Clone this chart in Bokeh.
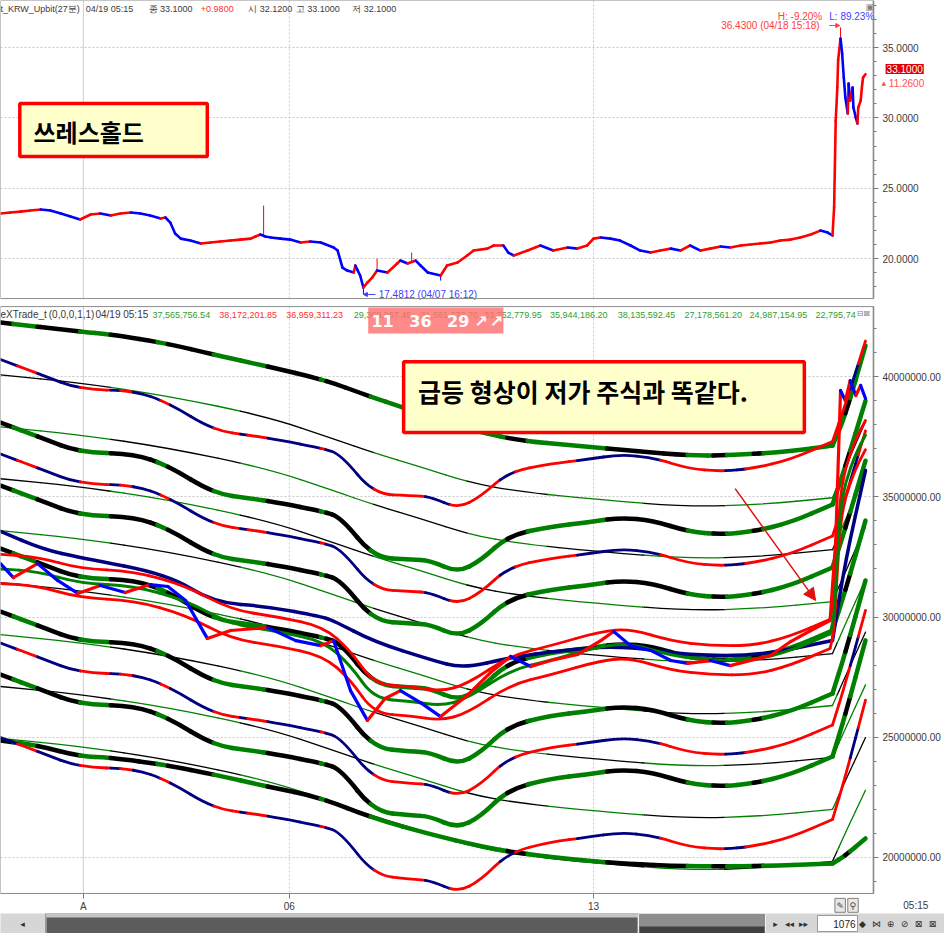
import numpy as np
from bokeh.plotting import figure
from bokeh.layouts import column
from bokeh.models import (Range1d, FixedTicker, CustomJSTickFormatter, Span,
                          BoxAnnotation, Label, Arrow, NormalHead, ColumnDataSource)
from bokeh.core.properties import value
from bokeh.embed import file_html
from bokeh.resources import INLINE

LATIN = "Liberation Sans"
HANGUL = "Noto Sans CJK KR"

# ---------------- price panel: 27-minute bars (bar index, close) ----------------
PRICE_PTS = [
    (0, 23.20), (12, 23.27), (25, 23.34), (37, 23.42), (50, 23.49), (62, 23.42), (75, 23.20),
    (87, 22.99), (99, 22.78), (112, 23.13), (124, 23.20), (137, 23.06), (149, 23.20), (162, 23.27),
    (174, 23.20), (186, 23.06), (199, 22.85), (205, 22.92), (211, 22.56), (217, 21.78), (224, 21.42),
    (236, 21.28), (249, 21.07), (261, 21.14), (273, 21.21), (286, 21.28), (298, 21.35), (311, 21.42),
    (317, 21.57), (323, 21.71), (329, 21.57), (336, 21.50), (348, 21.42), (360, 21.35), (373, 21.14),
    (385, 21.21), (398, 21.14), (414, 20.79), (419, 20.57), (425, 19.36), (431, 19.15), (439, 19.01),
    (441, 19.51), (444, 19.15), (447, 18.80), (451, 17.94), (456, 18.30), (462, 18.65), (468, 19.15),
    (481, 19.01), (493, 19.65), (497, 19.86), (506, 19.65), (516, 19.86), (522, 19.51), (531, 19.01),
    (547, 18.80), (555, 19.51), (568, 19.72), (580, 20.22), (588, 20.57), (605, 20.71), (613, 20.93),
    (625, 20.93), (631, 20.43), (638, 20.22), (655, 20.57), (671, 20.93), (687, 20.57), (705, 20.79),
    (717, 20.71), (729, 20.93), (737, 21.42), (746, 21.50), (758, 21.42), (770, 21.28), (783, 20.93),
    (795, 20.57), (808, 20.43), (820, 20.57), (833, 20.71), (845, 20.57), (857, 20.93), (870, 20.57),
    (882, 20.71), (895, 20.86), (907, 20.79), (920, 20.93), (932, 21.00), (944, 21.07), (957, 21.14),
    (969, 21.28), (982, 21.35), (994, 21.50), (1007, 21.71), (1019, 21.99), (1028, 21.85), (1034, 21.64),
    (1036, 23.63), (1038, 29.81), (1040, 32.16), (1041, 34.08), (1044, 35.64), (1046, 34.57),
    (1048, 32.87), (1050, 31.45), (1053, 30.31), (1054, 32.44), (1056, 31.23), (1059, 32.16),
    (1060, 30.74), (1063, 30.02), (1065, 29.60), (1066, 30.74), (1069, 31.23), (1071, 32.44),
    (1072, 32.87), (1075, 33.10),
]
# wick extremes (bar index, high or low)
PRICE_WICKS = [(327, 23.77), (451, 17.48), (468, 20.00), (511, 20.43), (547, 18.44), (1044, 36.43)]
PERIOD_HIGH = 36.43
PERIOD_LOW = 17.4812

# ---------------- indicator panel (values in millions) ----------------
# main band family: (bar, centre, sigma)
BAND_PTS = [
    (0, 32.85, 2.62), (50, 32.22, 2.62), (99, 31.60, 2.62), (165, 31.56, 2.62), (208, 31.06, 2.62),
    (265, 29.90, 2.62), (311, 29.69, 2.62), (344, 29.52, 2.62), (401, 29.15, 2.62), (423, 28.90, 2.62),
    (464, 27.19, 2.64), (510, 27.07, 2.66), (534, 27.03, 2.66), (568, 26.53, 2.66), (597, 27.03, 2.66),
    (631, 28.11, 2.64), (684, 28.52, 2.62), (729, 28.69, 2.62), (770, 28.90, 2.62), (811, 28.77, 2.62),
    (854, 28.32, 2.62), (895, 28.19, 2.62), (936, 28.32, 2.62), (982, 28.69, 2.62), (1034, 29.44, 2.62),
    (1050, 31.10, 2.58), (1075, 34.01, 2.49),
]
THICK_K = [2, 1, 0, -1, -2]
REDBLUE_K = [3, 1.5, -1.5, -3]

# slow band family: (bar, centre, step)
SLOW_PTS = [
    (0, 31.43, 2.16), (99, 31.10, 2.16), (208, 30.56, 2.16), (332, 29.69, 2.16), (414, 28.77, 2.16),
    (464, 28.19, 2.16), (522, 27.61, 2.16), (584, 26.94, 2.16), (646, 26.57, 2.16), (742, 26.24, 2.16),
    (854, 25.95, 2.16), (944, 26.03, 2.16), (1034, 26.32, 2.16), (1050, 27.53, 2.17),
    (1075, 29.369967, 2.191406),
]
SLOW_K = [4, 3, 2, 1, 0, -1, -2, -3]

OUTER_UPPER = [
    (0, 42.25), (99, 41.87), (137, 41.75), (208, 41.37), (265, 40.91), (332, 40.42), (401, 39.88),
    (456, 39.21), (501, 38.71), (547, 38.17), (597, 37.67), (646, 37.34), (712, 37.13), (795, 36.88),
    (854, 36.72), (903, 36.72), (982, 36.88), (1034, 37.13), (1050, 38.38), (1075, 41.29),
]
OUTER_LOWER = [
    (0, 24.86), (46, 24.66), (99, 24.20), (137, 24.16), (208, 23.83), (265, 23.45), (332, 22.95),
    (398, 22.49), (464, 21.62), (534, 20.96), (597, 20.46), (646, 20.17), (712, 19.92), (770, 19.75),
    (854, 19.63), (936, 19.63), (1034, 19.75), (1050, 20.08), (1075, 20.79),
]
NAVY_LINE = [
    (0, 33.56), (53, 32.81), (99, 32.47), (208, 31.77), (265, 30.60), (332, 30.44), (398, 30.02),
    (414, 29.85), (464, 28.98), (534, 28.23), (575, 27.86), (634, 28.32), (696, 28.61), (770, 28.81),
    (857, 28.40), (944, 28.40), (1034, 29.02), (1050, 32.35), (1075, 36.09),
]
# short envelope: centre line and its fixed half-width
ENV_CENTRE = [
    (0, 32.0), (46, 31.9), (99, 31.4), (165, 31.3), (230, 30.7), (286, 29.7), (344, 29.4), (401, 29.0),
    (435, 28.0), (464, 26.6), (510, 26.5), (547, 26.3), (580, 26.6), (634, 27.8), (684, 28.2),
    (746, 28.8), (783, 28.9), (833, 28.4), (882, 28.2), (936, 28.2), (982, 28.6), (1031, 29.3),
    (1036, 30.0), (1040, 32.5), (1044, 34.5), (1050, 35.6), (1063, 36.8), (1075, 37.565757),
]
ENV_HALF = 0.606445
FAST_LINE = [
    (0, 32.22), (16, 31.64), (46, 32.22), (71, 31.52), (96, 30.98), (124, 31.31), (155, 31.02),
    (186, 31.35), (208, 31.27), (230, 30.69), (257, 29.11), (286, 29.44), (332, 29.56), (367, 29.02),
    (398, 28.81), (414, 29.02), (435, 26.94), (456, 25.70), (478, 26.61), (497, 26.94), (522, 26.44),
    (547, 25.86), (580, 26.74), (609, 27.69), (634, 28.36), (659, 27.94), (684, 28.19), (717, 28.44),
    (746, 29.02), (762, 29.40), (783, 28.81), (808, 28.61), (833, 28.19), (854, 28.07), (882, 28.19),
    (907, 27.98), (936, 28.23), (957, 28.40), (982, 28.98), (1007, 29.44), (1031, 29.85), (1038, 33.18),
    (1044, 39.42), (1050, 39.00), (1056, 39.83), (1063, 39.21), (1069, 39.63), (1075, 39.09),
]
# bars where the smooth lines turn sharply (the breakout)
KNEE_BARS = (1031, 1034)

# state colouring along time: bar where each state starts
THICK_STATE_BARS = [0, 16, 46, 99, 137, 195, 208, 265, 332, 398, 405, 460, 630, 655, 754, 854, 886,
                    903, 936, 948, 1050, 1056]
REDBLUE_STATE_BARS = [0, 21, 46, 99, 137, 149, 165, 199, 211, 265, 298, 307, 332, 398, 404, 464, 528,
                      559, 621, 640, 717, 820, 901, 926, 1056, 1066]
SLOW_STATE_BARS = [0, 137, 298, 464, 580, 680, 800, 900, 1040]

X_TICKS = {103: "A", 359: "06", 737: "13"}
LEGEND_NUMBERS = ["37,565,756.54", "38,172,201.85", "36,959,311.23", "29,369,967.45",
                  "31,561,373.70", "33,752,779.95", "35,944,186.20", "38,135,592.45",
                  "27,178,561.20", "24,987,154.95", "22,795,74"]
LEGEND_NUMBER_BARS = [189, 272, 355, 439, 522, 601, 683, 767, 850, 931, 1013]

BLACK, GREEN, RED, NAVY, BLUE = "#000000", "#008000", "#ff0000", "#000080", "#0000ff"


def pts(seq):
    a = np.asarray(seq, dtype=float)
    return a[:, 0], a[:, 1:]


def bezier_chain(xs, ys, corners=KNEE_BARS):
    """Quadratic pieces through the knot midpoints (knots act as control points)."""
    P = np.column_stack([xs, ys]).astype(float)
    n = len(P)
    cut = [0] + [i for i in range(1, n - 1) if xs[i] in corners] + [n - 1]
    curves = []
    for a, b in zip(cut[:-1], cut[1:]):
        run = P[a:b + 1]
        if len(run) == 2:
            curves.append((run[0], (run[0] + run[1]) / 2, run[1]))
            continue
        mids = (run[:-1] + run[1:]) / 2
        curves.append((run[0], (run[0] + mids[0]) / 2, mids[0]))
        for i in range(1, len(run) - 1):
            curves.append((mids[i - 1], run[i], mids[i]))
        curves.append((mids[-1], (mids[-1] + run[-1]) / 2, run[-1]))
    return curves


def solve_t(x0, cx, x1, xb):
    A = x0 - 2 * cx + x1
    B = 2 * (cx - x0)
    C = x0 - xb
    if abs(A) < 1e-9:
        return -C / B
    d = np.sqrt(max(B * B - 4 * A * C, 0.0))
    for t in ((-B + d) / (2 * A), (-B - d) / (2 * A)):
        if -1e-9 <= t <= 1 + 1e-9:
            return min(max(t, 0.0), 1.0)
    return 0.5


def split_quad(p0, c, p1, t):
    a = p0 + (c - p0) * t
    b = c + (p1 - c) * t
    m = a + (b - a) * t
    return (p0, a, m), (m, b, p1)


def coloured_curves(xs, ys, state_bars, palette, width, rows):
    for p0, c, p1 in bezier_chain(xs, ys):
        parts = []
        rest = (p0, c, p1)
        for b in state_bars:
            if rest[0][0] < b < rest[2][0]:
                t = solve_t(rest[0][0], rest[1][0], rest[2][0], b)
                left, rest = split_quad(*rest, t)
                parts.append(left)
        parts.append(rest)
        for q0, qc, q1 in parts:
            idx = int(np.searchsorted(state_bars, (q0[0] + q1[0]) / 2, side="right")) - 1
            rows["x0"].append(q0[0]); rows["y0"].append(q0[1])
            rows["cx"].append(qc[0]); rows["cy"].append(qc[1])
            rows["x1"].append(q1[0]); rows["y1"].append(q1[1])
            rows["color"].append(palette[idx % len(palette)])
            rows["width"].append(width)


def new_rows():
    return {k: [] for k in ("x0", "y0", "cx", "cy", "x1", "y1", "color", "width")}


# horizontal scale: the frames span the whole window, the value axes sit at AXIS_X
AXIS_X = 1084.9
X_FULL = 1173.2

# ======================= price panel =======================
PRICE_BOTTOM = 17.16     # lower edge of the price pane
top = figure(width=944, height=302, x_range=Range1d(0, X_FULL), y_range=Range1d(16.88, 38.34),
             output_backend="svg", toolbar_location=None, x_axis_location=None,
             y_axis_location="right", min_border=0)

bx, bv = pts(PRICE_PTS)
bv = bv[:, 0]
seg = dict(x0=bx[:-1], y0=bv[:-1], x1=bx[1:], y1=bv[1:],
           c=[RED if b >= a else BLUE for a, b in zip(bv[:-1], bv[1:])])
wx, wv = pts(PRICE_WICKS)
wbase = np.interp(wx, bx, bv)
top.segment(x0=wx, y0=wbase, x1=wx, y1=wv[:, 0],
            line_color=[RED if v > b else BLUE for v, b in zip(wv[:, 0], wbase)], line_width=1)
top.segment(x0="x0", y0="y0", x1="x1", y1="y1", line_color="c", line_width=2.6,
            line_cap="round", source=ColumnDataSource(seg))

# ======================= indicator panel =======================
IND_BOTTOM, IND_TOP = 18.503, 42.91   # edges of the indicator pane
bot = figure(width=944, height=611, x_range=top.x_range, y_range=Range1d(17.67, 43.08),
             output_backend="svg", toolbar_location=None, y_axis_location="right", min_border=0)

layers = [new_rows() for _ in range(6)]
thin, outer, thick, redblue, navy, env = layers

sx, sv = pts(SLOW_PTS)
for i, k in enumerate(SLOW_K):
    pal = [BLACK, GREEN] if i % 2 == 0 else [GREEN, BLACK]
    coloured_curves(sx, sv[:, 0] + k * sv[:, 1], SLOW_STATE_BARS, pal, 1.3, thin)

for line in (OUTER_UPPER, OUTER_LOWER):
    ox, ov = pts(line)
    coloured_curves(ox, ov[:, 0], THICK_STATE_BARS, [BLACK, GREEN], 4.5, outer)

cx_, cv = pts(BAND_PTS)
for k in THICK_K:
    coloured_curves(cx_, cv[:, 0] + k * cv[:, 1], THICK_STATE_BARS, [BLACK, GREEN], 4.5, thick)
for k in REDBLUE_K:
    coloured_curves(cx_, cv[:, 0] + k * cv[:, 1], REDBLUE_STATE_BARS, [NAVY, RED], 2.8, redblue)

nx, nv = pts(NAVY_LINE)
coloured_curves(nx, nv[:, 0], [0], [NAVY], 3.5, navy)

ex, ev = pts(ENV_CENTRE)
coloured_curves(ex, ev[:, 0] + ENV_HALF, [0], [RED], 2.8, env)
coloured_curves(ex, ev[:, 0] - ENV_HALF, [0], [RED], 2.8, env)
coloured_curves(ex, ev[:, 0], [0], [GREEN], 3.0, env)

for rows in layers:
    bot.quadratic(x0="x0", y0="y0", x1="x1", y1="y1", cx="cx", cy="cy", line_color="color",
                  line_width="width", line_cap="round", source=ColumnDataSource(rows))

fx, fv = pts(FAST_LINE)
fv = fv[:, 0]
bot.segment(x0=fx[:-1], y0=fv[:-1], x1=fx[1:], y1=fv[1:],
            line_color=[RED if b >= a else BLUE for a, b in zip(fv[:-1], fv[1:])],
            line_width=3.2, line_cap="round")

# ======================= axes, grids, frames =======================
PANES = ((top, [20, 25, 30, 35], list(range(18, 39)), "return tick.toFixed(4);", PRICE_BOTTOM, 38.34),
         (bot, [20, 25, 30, 35, 40], list(range(19, 43)), "return (tick*1e6).toFixed(2);",
          IND_BOTTOM, IND_TOP))
for fig, ticks, minor, fmt, lo, hi in PANES:
    ax = fig.yaxis[0]
    ax.fixed_location = AXIS_X
    ax.bounds = (lo, hi)
    ax.ticker = FixedTicker(ticks=ticks, minor_ticks=minor)
    ax.formatter = CustomJSTickFormatter(code=fmt)
    ax.major_label_text_font = LATIN
    ax.major_label_text_font_size = "10px"
    ax.major_label_text_color = "#3a3a3a"
    ax.axis_line_color = "#7a7a7a"
    ax.axis_line_width = 1.5
    ax.major_tick_line_color = "#7a7a7a"
    ax.minor_tick_line_color = "#7a7a7a"
    ax.major_tick_out = 5
    ax.major_tick_in = 0
    ax.minor_tick_out = 3
    ax.minor_tick_in = 0
    ax.major_label_standoff = 4
    fig.ygrid.grid_line_color = "#c8c8c8"
    fig.ygrid.grid_line_dash = "2 2"
    fig.xgrid.visible = False
    fig.outline_line_color = None
    fig.background_fill_color = "white"
    fig.border_fill_color = "white"
    fig.add_layout(Span(location=103, dimension="height", line_color="#cfcfcf", line_width=1,
                        level="underlay"))
    for loc in (359, 737):
        fig.add_layout(Span(location=loc, dimension="height", line_color="#c8c8c8",
                            line_dash="2 2", line_width=1, level="underlay"))
    # blank the margins outside the pane
    fig.add_layout(BoxAnnotation(left=AXIS_X, fill_color="white", fill_alpha=1, line_alpha=0,
                                 level="underlay"))
    fig.add_layout(BoxAnnotation(top=lo, fill_color="white", fill_alpha=1, line_alpha=0,
                                 level="underlay"))
    fig.add_layout(BoxAnnotation(bottom=hi, fill_color="white", fill_alpha=1, line_alpha=0,
                                 level="underlay"))
    fig.add_layout(BoxAnnotation(left=0, right=AXIS_X, bottom=lo, top=hi, fill_alpha=0,
                                 line_color="#8c8c8c", line_alpha=1, line_width=1))

xa = bot.xaxis[0]
xa.fixed_location = IND_BOTTOM
xa.bounds = (0, AXIS_X)
xa.ticker = FixedTicker(ticks=list(X_TICKS.keys()), minor_ticks=[])
xa.major_label_overrides = {k: v for k, v in X_TICKS.items()}
xa.major_label_text_font = LATIN
xa.major_label_text_font_size = "10px"
xa.major_label_text_color = "#3a3a3a"
xa.axis_line_color = "#7a7a7a"
xa.major_tick_line_color = "#7a7a7a"
xa.major_tick_out = 5
xa.major_tick_in = 0
xa.major_label_standoff = 3

# ======================= texts and callouts =======================
HEADER = [("t_KRW_Upbit(27분)", 0, "#3a3a3a"), ("04/19 05:15", 106, "#3a3a3a"),
          ("종 33.1000", 184, "#3a3a3a"), ("+0.9800", 249, "#ff3030"),
          ("시 32.1200", 308, "#3a3a3a"), ("고 33.1000", 367, "#3a3a3a"), ("저 32.1000", 437, "#3a3a3a")]
top.text(x=[h[1] for h in HEADER], y=[37.77] * len(HEADER), text=[h[0] for h in HEADER],
         text_color=[h[2] for h in HEADER], text_font=value(LATIN), text_font_size="9px",
         text_baseline="middle")

top.text(x=[966, 1030], y=[37.20, 37.20], text=["H: -9.20%", "L: 89.23%"],
         text_color=["#ff4040", "#4040ff"], text_font=value(LATIN), text_font_size="10px",
         text_baseline="middle")
top.text(x=[1018], y=[36.56], text=[f"{PERIOD_HIGH:.4f} (04/18 15:18)"], text_color="#ff4040",
         text_font=value(LATIN), text_font_size="10px", text_baseline="middle", text_align="right")
top.add_layout(Arrow(end=NormalHead(size=4, fill_color="#ff4040", line_color="#ff4040"),
                     x_start=1030, y_start=36.56, x_end=1043, y_end=36.56,
                     line_color="#ff4040", line_width=1))
top.text(x=[470], y=[17.45], text=[f"{PERIOD_LOW:.4f} (04/07 16:12)"], text_color="#4040ff",
         text_font=value(LATIN), text_font_size="10px", text_baseline="middle")
top.add_layout(Arrow(end=NormalHead(size=4, fill_color="#4040ff", line_color="#4040ff"),
                     x_start=466, y_start=17.45, x_end=451, y_end=17.45,
                     line_color="#4040ff", line_width=1))

top.add_layout(Label(x=1100, y=33.47, text=f"{bv[-1]:.4f}", text_color="white",
                     text_font=LATIN, text_font_size="10px", text_baseline="middle",
                     background_fill_color="#e00000", padding=1))
top.add_layout(Label(x=1095, y=32.51, text="▲", text_color="#ff5050", text_font="DejaVu Sans",
                     text_font_size="6px", text_baseline="middle"))
top.add_layout(Label(x=1104, y=32.51, text="11.2600", text_color="#ff5050", text_font=LATIN,
                     text_font_size="10px", text_baseline="middle"))
top.add_layout(Label(x=1075, y=37.90, text="▣", text_color="#808080", text_font="DejaVu Sans",
                     text_font_size="9px", text_baseline="middle"))

top.add_layout(BoxAnnotation(left=24, right=257, top=31.02, bottom=27.25, fill_color="#ffffcc",
                             fill_alpha=1, line_color="#ff0000", line_alpha=1, line_width=3.5))
top.add_layout(Label(x=41, y=29.03, text="쓰레스홀드", text_font=HANGUL, text_font_size="24px",
                     text_font_style="bold", text_color="black", text_baseline="middle"))

bot.text(x=[0, 60, 118], y=[42.58] * 3, text=["eXTrade_t", "(0,0,0,1,1)", "04/19 05:15"],
         text_color="#3a3a3a", text_font=value(LATIN), text_font_size="10px", text_baseline="middle")
LEG_COLORS = ["#2e9e2e", "#ff3030", "#ff3030"] + ["#2e9e2e"] * 8
bot.text(x=LEGEND_NUMBER_BARS, y=[42.58] * len(LEGEND_NUMBERS), text=LEGEND_NUMBERS,
         text_color=LEG_COLORS, text_font=value(LATIN), text_font_size="9px", text_baseline="middle")
bot.add_layout(Label(x=1064, y=42.62, text="⊟⊠", text_color="#808080", text_font="DejaVu Sans",
                     text_font_size="8px", text_baseline="middle"))

bot.add_layout(BoxAnnotation(left=457, right=625, top=42.87, bottom=41.79, fill_color="#ff7070",
                             fill_alpha=0.82, line_alpha=0))
for tx, tt in zip([461, 508, 555, 589, 608], ["11", "36", "29", "↗", "↗"]):
    bot.add_layout(Label(x=tx, y=42.29, text=tt, text_color="white", text_font="DejaVu Sans",
                         text_font_size="16px", text_font_style="bold", text_baseline="middle"))

bot.add_layout(BoxAnnotation(left=501, right=999, top=40.62, bottom=37.67, fill_color="#ffffcc",
                             fill_alpha=1, line_color="#ff0000", line_alpha=1, line_width=3.5))
bot.add_layout(Label(x=519, y=39.42, text="급등 형상이 저가 주식과 똑같다.", text_font=HANGUL,
                     text_font_size="25px", text_font_style="bold", text_color="black",
                     text_baseline="middle"))
bot.add_layout(Arrow(end=NormalHead(size=12, fill_color="#e01010", line_color="#e01010"),
                     x_start=913, y_start=35.34, x_end=1013, y_end=30.69,
                     line_color="#e01010", line_width=1.5))
bot.add_layout(Label(x=1122, y=18.0, text="05:15", text_font=LATIN, text_font_size="10px",
                     text_color="#3a3a3a", text_baseline="middle"))
for bxl in (1037, 1053):
    bot.add_layout(BoxAnnotation(left=bxl, right=bxl + 13, top=18.30, bottom=17.72, fill_color="#e8e8e8",
                                 fill_alpha=1, line_color="#808080", line_alpha=1, line_width=1))
bot.add_layout(Label(x=1039, y=18.0, text="✎", text_font="DejaVu Sans", text_font_size="9px",
                     text_color="#404040", text_baseline="middle"))
bot.add_layout(Label(x=1055, y=18.0, text="⚲", text_font="DejaVu Sans", text_font_size="9px",
                     text_color="#404040", text_baseline="middle"))

# ======================= scroll strip =======================
strip = figure(width=944, height=20, x_range=Range1d(0, 944), y_range=Range1d(0, 20),
               output_backend="svg", toolbar_location=None, x_axis_location=None,
               y_axis_location=None, min_border=0)
strip.xgrid.visible = False
strip.ygrid.visible = False
strip.outline_line_color = None
strip.background_fill_color = "#d6d6d6"
strip.border_fill_color = "#d6d6d6"
strip.quad(left=[45, 638], right=[638, 765], bottom=[0, 0], top=[20, 20],
           fill_color=["#c4c4c4", "#8e8e8e"], line_color=["#9a9a9a", "#f0f0f0"])
strip.quad(left=[46, 639], right=[637, 764], bottom=[0, 0], top=[16, 7],
           fill_color=["#5c5c5c", "#404040"], line_color=None)
strip.quad(left=[817], right=[857], bottom=[2], top=[18], fill_color="white", line_color="#9a9a9a")
strip.text(x=[855], y=[10], text=["1076"], text_align="right", text_baseline="middle",
           text_font=value(LATIN), text_font_size="10px", text_color="#222222")
strip.text(x=[22, 775, 789, 803, 862, 876, 890, 904, 918, 932], y=[10] * 10,
           text=["◂", "▸", "◂◂", "▸▸", "◆", "⋈", "⊕", "⊘", "⊠", "⊠"], text_align="center",
           text_baseline="middle", text_font=value("DejaVu Sans"), text_font_size="9px",
           text_color="#303030")

page = column(top, bot, strip, spacing=0)
open("out.html", "w").write(file_html(page, INLINE))
